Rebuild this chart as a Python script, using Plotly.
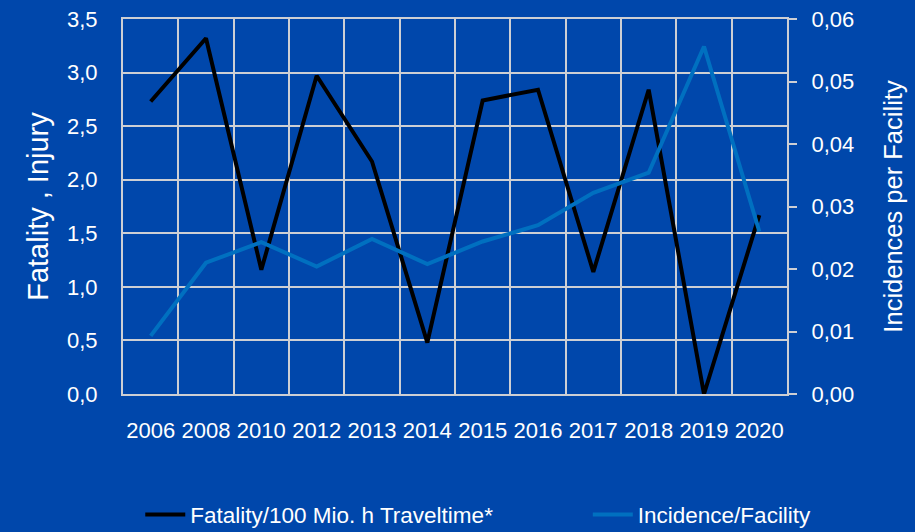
import plotly.graph_objects as go

# Years and series
years = ["2006", "2008", "2010", "2012", "2013", "2014",
         "2015", "2016", "2017", "2018", "2019", "2020"]
fatality = [2.73, 3.32, 1.16, 2.97, 2.17, 0.48, 2.74, 2.84, 1.14, 2.84, 0.0, 1.67]
incidence = [0.0093, 0.0210, 0.0243, 0.0204, 0.0248, 0.0208,
             0.0244, 0.0270, 0.0322, 0.0354, 0.0556, 0.0260]

BG = "#0047AB"
GRID = "#CDCFD4"
FONT = "Liberation Sans, Arial, sans-serif"

fig = go.Figure()
fig.add_trace(go.Scatter(
    x=years, y=fatality, mode="lines", name="Fatality/100 Mio. h Traveltime*",
    line=dict(color="#000000", width=4), yaxis="y", legend="legend"))
fig.add_trace(go.Scatter(
    x=years, y=incidence, mode="lines", name="Incidence/Facility",
    line=dict(color="#0070C0", width=4), yaxis="y2", legend="legend2"))

legend_style = dict(orientation="h", yanchor="middle", y=-0.322, xanchor="left",
                    font=dict(size=22.5, color="white"), bgcolor="rgba(0,0,0,0)",
                    itemwidth=40)

fig.update_layout(
    width=915, height=532,
    paper_bgcolor=BG, plot_bgcolor=BG,
    separators=", ",
    font=dict(family=FONT, color="white", size=22),
    margin=dict(l=123, r=128, t=19, b=138, autoexpand=False),
    showlegend=True,
    legend=dict(x=0.026, **legend_style),
    legend2=dict(x=0.700, **legend_style),
    xaxis=dict(type="category", range=[-0.5, len(years) - 0.5], tickson="boundaries",
               showgrid=True, gridcolor=GRID, gridwidth=2, ticks="",
               showline=True, linecolor=GRID, linewidth=2, mirror=True,
               tickangle=0, automargin=False,
               tickfont=dict(size=22), ticklabelstandoff=16),
    yaxis=dict(range=[0, 3.5], dtick=0.5, tickformat=".1f", showgrid=True,
               gridcolor=GRID, gridwidth=2, zeroline=False, showline=True,
               linecolor=GRID, linewidth=2, ticks="", ticklabelstandoff=19,
               tickfont=dict(size=22), automargin=False,
               title=dict(text="Fatality , Injury", font=dict(size=29), standoff=10)),
    yaxis2=dict(range=[0, 0.06], dtick=0.01, tickformat=".2f", overlaying="y",
                side="right", showgrid=False, zeroline=False, showline=True,
                linecolor=GRID, linewidth=2, ticks="outside", ticklen=8,
                tickwidth=2, tickcolor=GRID, ticklabelstandoff=10,
                tickfont=dict(size=22), automargin=False,
                title=dict(text="Incidences per Facility", font=dict(size=25.5), standoff=31)),
)

fig.write_html("out.html")
